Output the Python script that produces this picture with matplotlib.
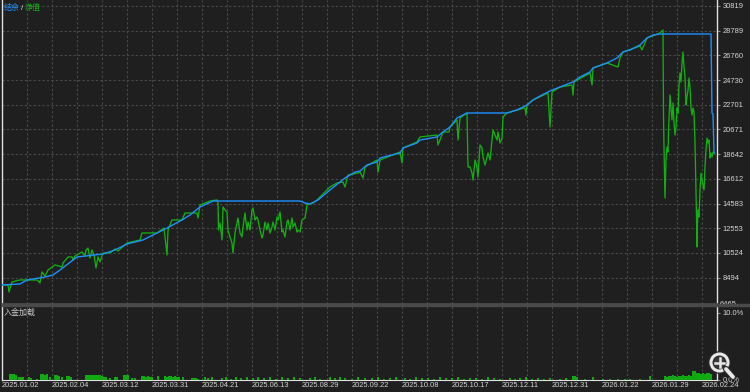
import matplotlib
matplotlib.use("Agg")
import matplotlib.pyplot as plt
from matplotlib.patches import Circle, Rectangle
from matplotlib.transforms import Bbox, TransformedBbox

plt.rcParams['font.family'] = ['Liberation Sans', 'Noto Sans CJK SC', 'DejaVu Sans']

# deal index (x) vs balance / equity
bal_x = [2, 20, 27, 45, 53, 60, 77, 103, 115, 127, 143, 157, 167, 182, 190, 200, 213,
         300, 305, 310, 318, 330, 345, 355, 360, 367, 377, 380, 400, 403, 417, 420, 437,
         443, 450, 457, 467, 507, 517, 527, 533, 540, 552, 560, 573, 580, 590, 593, 607,
         617, 623, 630, 640, 647, 653, 660, 711, 711.5, 712, 713, 714]
balance = [7894, 7976, 8305, 8551, 8716, 9127, 10195, 10441, 10770, 11263, 11591, 12166,
           12577, 13235, 13646, 14303, 14796, 14796, 14631, 14549, 14878, 15700, 16686,
           17179, 17261, 17754, 18000, 18329, 18740, 19151, 19562, 19808, 20055, 20466,
           20876, 21616, 22027, 22027, 22274, 22685, 23095, 23424, 23917, 24163, 24574,
           24985, 25396, 25724, 26135, 26546, 27039, 27203, 27614, 28189, 28436, 28518,
           28518, 25313, 22027, 21945, 18740]

eq_x = [2, 8, 9, 12, 20, 37, 40, 42, 45, 48, 55, 62, 63, 68, 72, 73, 75, 82, 85, 86, 88,
        90, 92, 94, 96, 98, 100, 102, 103, 110, 115, 118, 127, 140, 142, 157, 164, 167,
        168, 172, 182, 185, 197, 198, 200, 210, 217,
        218, 218.5, 220, 222, 223, 225, 227, 228, 230, 232, 233, 234, 235, 237, 238, 240,
        242, 243, 245, 247, 248, 250, 252, 253, 255, 257, 258, 260, 262, 263, 265, 267,
        268, 270, 272, 273, 275, 277, 278, 280, 282, 283, 285, 287, 288, 290, 292, 293,
        295, 297, 298, 300, 302, 305, 307, 313, 317, 320, 325, 330, 337, 343, 345, 348, 358,
        360, 363, 365, 377, 378, 380, 400, 402, 403, 417, 420, 437, 438, 443, 449, 450, 457,
        458, 460, 467, 468, 470, 472, 473, 475, 477, 478, 480, 482, 483, 485, 487, 488, 490,
        493, 495, 497, 498, 500, 502, 503, 507, 517, 525, 526, 527, 533, 548, 550, 552, 560,
        572, 573, 574, 590, 592, 593, 607, 618, 620, 623, 640, 642, 647, 660, 663,
        663.5, 664, 665, 666, 667, 668, 668.5, 669, 670, 671, 672, 673, 673.5, 674, 675, 676,
        677, 678, 679, 680, 681, 682, 683, 684, 685, 686, 687, 688, 689, 690, 691, 692, 693,
        694, 695, 696, 696.5, 697, 697.5, 698, 699, 700, 701, 702, 703, 704, 705, 706, 707,
        708, 709, 710, 711, 712, 713, 714]
equity = [7894, 7894, 7319, 8141, 8305, 8305, 8058, 8962, 8634, 9127, 9538, 9373, 9702,
          10195, 10195, 9948, 10277, 10605, 10277, 10770, 10934, 10113, 10770, 10359, 9291,
          10195, 9784, 10277, 10524, 10524, 10852, 10688, 11345, 11591, 12166, 12166, 12577,
          10359, 12413, 13235, 13235, 13810, 13810, 13399, 14467, 14796, 14878,
          14631, 12413, 12988, 11591, 14303, 14056, 13892, 12413, 11837, 11345, 10524, 11345,
          12166, 12988, 13399, 12166, 11837, 12659, 13810, 12413, 13070, 12413, 14056, 14221,
          13235, 13481, 13235, 12413, 11755, 12002, 13070, 12413, 12988, 12166, 12659, 13070,
          12413, 13481, 13235, 13892, 12248, 12413, 11837, 13070, 13235, 12413, 13399, 12659,
          12988, 12248, 12413, 12248, 13235, 13399, 14467, 14631, 14878, 15125, 15536, 15946,
          16275, 16357, 15946, 16932, 17097,
          17179, 16686, 17590, 18165, 17179, 18165, 18822, 17918, 19151, 19644, 20055, 20219,
          19397, 20466, 20466, 20876, 21452, 19808, 21616, 22027, 17590, 17590, 17097, 16522,
          18165, 17590, 16768, 19397, 19151, 18411, 17754, 18411, 18740, 18165, 20630, 20219,
          19808, 20466, 19562, 19973, 21698, 22027, 22274, 22438, 21863, 22685, 23095, 23670,
          20876, 23752, 24163, 24327, 23506, 24574, 25313, 24327, 25724, 26135, 25806, 26546,
          27039, 27532, 27203, 28189, 28600, 28847,
          21863, 19233, 15043, 18165, 19233, 18822, 20630, 21452, 23506, 22520, 21452, 22849,
          22027, 21287, 20219, 20876, 22438, 22027, 24327, 25313, 24574, 26135, 27039, 25806,
          24985, 22685, 23342, 23917, 24903, 24163, 22438, 21863, 22438, 22109, 19562, 15700,
          13481, 11016, 12988, 14056, 13481, 15700, 17097, 16522, 16111, 15700, 17590, 18987,
          19973, 19562, 19808, 18329, 18740, 18411, 18822, 18740]

# deposit load, %
load_x = [10, 11.5, 13, 14.5, 16, 19, 21, 23, 29, 31, 37, 41, 43, 45, 47, 50, 55, 57, 59, 62,
          67, 69, 71, 86, 88, 90, 92, 94, 96, 98, 100, 102, 104, 106, 110, 115, 117, 124, 126,
          128, 132, 135, 142, 144, 146, 148, 150, 152, 158, 165, 167, 169, 171, 173, 175, 177,
          179, 183, 192, 194, 196, 198, 205, 208, 212, 222, 226, 231, 236, 241, 247, 253, 258,
          264, 270, 276, 282, 288, 294, 300, 310, 315, 320, 330, 335, 340, 345, 352, 358, 365,
          372, 378, 384, 390, 396, 405, 410, 416, 422, 428, 434, 440, 446, 452, 458, 464, 470,
          476, 482, 488, 494, 500, 510, 515, 520, 526, 532, 538, 544, 550, 560, 566, 573, 575,
          577, 585, 593, 603, 610, 618, 625, 630, 640, 650, 665, 667, 669, 671, 673, 675, 677,
          679, 681, 683, 685, 687, 689, 691, 693, 695, 697, 699, 701, 703, 705, 707, 709, 711]
load_pct = [0.9, 0.9, 0.9, 0.9, 0.8, 0.5, 0.5, 0.4, 0.4, 0.3, 0.2, 0.9, 0.9, 0.8, 0.9, 0.4,
            0.7, 0.7, 0.6, 0.4, 0.6, 0.6, 0.5, 0.7, 0.7, 0.8, 0.7, 0.7, 0.8, 0.7, 0.7, 0.6,
            0.5, 0.5, 0.3, 0.4, 0.4, 0.7, 0.8, 0.7, 0.3, 0.3, 0.6, 0.6, 0.5, 0.6, 0.5, 0.4,
            0.6, 0.6, 0.5, 0.6, 0.6, 0.5, 0.6, 0.5, 0.4, 0.5, 0.3, 0.3, 0.3, 0.2, 0.4, 0.3,
            0.5, 0.3, 0.4, 0.2, 0.5, 0.3, 0.4, 0.3, 0.5, 0.3, 0.4, 0.2, 0.4, 0.3, 0.5, 0.3,
            0.3, 0.4, 0.2, 0.4, 0.3, 0.5, 0.3, 0.2, 0.4, 0.3, 0.3, 0.4, 0.2, 0.3, 0.4, 0.3,
            0.2, 0.4, 0.3, 0.3, 0.2, 0.4, 0.3, 0.3, 0.4, 0.2, 0.3, 0.3, 0.2, 0.4, 0.3, 0.2,
            0.3, 0.2, 0.3, 0.4, 0.2, 0.3, 0.2, 0.3, 0.2, 0.3, 0.6, 0.6, 0.5, 0.2, 0.45, 0.15,
            0.15, 0.15, 0.15, 0.15, 0.15, 0.6, 0.6, 0.5, 0.6, 0.6, 0.7, 0.6, 0.5, 0.6,
            0.6, 0.7, 0.6, 0.6, 0.7, 0.6, 1.3, 1.3, 1.0, 1.0, 0.9, 1.0, 0.9, 1.0, 1.0, 0.9]

date_x = [2, 52, 102, 152, 202, 252, 302, 352, 402, 452, 502, 552, 602, 652, 702]
date_labels = ['2025.01.02', '2025.02.04', '2025.03.12', '2025.03.31', '2025.04.21',
               '2025.06.13', '2025.08.29', '2025.09.22', '2025.10.08', '2025.10.17',
               '2025.12.11', '2025.12.31', '2026.01.22', '2026.01.29', '2026.02.24']
y_ticks = [8494, 10524, 12553, 14583, 16612, 18642, 20671, 22701, 24730, 26760, 28789, 30819]

BG = '#1f1f1f'
GRID = '#4a4a4a'
TXT = '#d6d6d6'
BLUE = '#1e90ff'
GREEN = '#11b011'

fig = plt.figure(figsize=(7.5, 3.92), dpi=100, facecolor=BG)
ax1 = fig.add_axes([2 / 750, 1 - 304 / 392, 715 / 750, 304 / 392])
ax2 = fig.add_axes([2 / 750, 12 / 392, 715 / 750, 74 / 392])

for ax in (ax1, ax2):
    ax.set_facecolor(BG)
    ax.set_xlim(2, 717)
    ax.set_xticks(date_x)
    ax.set_xticks([x + 25 for x in date_x[:-1]], minor=True)
    ax.grid(which='both', axis='x', color=GRID, linestyle=(0, (2, 2)), linewidth=0.8)
    ax.yaxis.tick_right()
    ax.tick_params(axis='y', colors=TXT, labelsize=5.4, length=2, pad=2, color='#888888')
    ax.tick_params(axis='x', which='both', length=0)
    for s in ('left', 'right'):
        ax.spines[s].set_color('#e0e0e0')
        ax.spines[s].set_linewidth(1.0)
    ax.spines['top'].set_visible(False)

# top panel
ax1.set_ylim(6332, 31312)
ax1.set_yticks(y_ticks)
ax1.set_yticklabels([str(v) for v in y_ticks])
ax1.grid(axis='y', color=GRID, linestyle=(0, (2, 2)), linewidth=0.8)
ax1.set_xticklabels([])
ax1.spines['bottom'].set_color('#4a4a4a')
ax1.spines['bottom'].set_linewidth(2.0)
ax1.plot(eq_x, equity, color=GREEN, lw=0.95, zorder=3)
ax1.plot(bal_x, balance, color=BLUE, lw=1.0, zorder=4)

# bottom panel
ax2.set_ylim(0, 11.04)
ax2.set_yticks([0, 10])
ax2.set_yticklabels(['0.0%', '10.0%'])
ax2.bar(load_x, load_pct, width=1.5, color='#12a812', align='center', zorder=3)
ax2.spines['bottom'].set_color('#e0e0e0')
ax2.set_xticklabels(date_labels, ha='left')
ax2.tick_params(axis='x', colors=TXT, labelsize=5.4, pad=1.5)

# legends / panel titles
fs = 5.8
fig.text(4 / 750, 1 - 8 / 392, '结余', color=BLUE, fontsize=fs, va='center')
fig.text(21 / 750, 1 - 8 / 392, '/', color='#e0e0e0', fontsize=fs, va='center')
fig.text(25 / 750, 1 - 8 / 392, '净值', color=GREEN, fontsize=fs, va='center')
fig.text(4 / 750, 1 - 313 / 392, '入金加载', color='#c8c8c8', fontsize=fs, va='center')

# cut-off lowest label, only its upper half shows above the separator
low = fig.text(720 / 750, 1 - 305 / 392, '6465', color=TXT, fontsize=5.4, va='center')
low.set_clip_box(TransformedBbox(Bbox([[0, 1 - 304 / 392], [1, 1]]), fig.transFigure))
low.set_clip_on(True)
fig.patches.append(Rectangle((2 / 750, 1 - 306 / 392), 748 / 750, 2 / 392,
                             transform=fig.transFigure, color='#4a4a4a', zorder=2.6))

# zoom icon overlay
ov = fig.add_axes([0, 0, 1, 1], zorder=10)
ov.set_xlim(0, 750)
ov.set_ylim(392, 0)
ov.axis('off')
ov.patch.set_alpha(0)
ov.plot([726, 733], [369, 377], color='#2a2a2a', lw=4.5, solid_capstyle='round')
ov.plot([726, 733], [369, 377], color='#e8e8e8', lw=2.8, solid_capstyle='round')
ov.add_patch(Circle((719.5, 362.5), 8.5, facecolor='#3a3a3a', edgecolor='#2a2a2a', lw=4))
ov.add_patch(Circle((719.5, 362.5), 8.5, facecolor='none', edgecolor='#e8e8e8', lw=2.2))
ov.plot([715, 724], [362.5, 362.5], color='#e8e8e8', lw=1.8)
ov.plot([719.5, 719.5], [358, 367], color='#e8e8e8', lw=1.8)

fig.savefig('out.png', dpi=100, facecolor=BG)
